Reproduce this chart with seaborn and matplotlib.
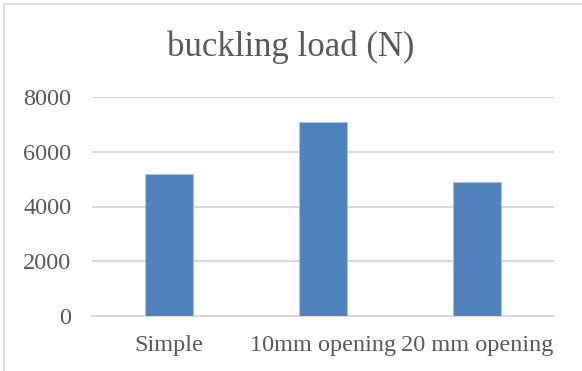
import matplotlib
matplotlib.use("Agg")
import matplotlib.pyplot as plt
import matplotlib.patches as mpatches
import seaborn as sns
import pandas as pd

categories = ["Simple", "10mm opening", "20 mm opening"]
buckling_load = [5200, 7100, 4900]
y_ticks = [0, 2000, 4000, 6000, 8000]

sns.set_theme(style="white")
plt.rcParams["font.family"] = ["Liberation Serif", "DejaVu Serif"]

text_color = "#595959"
grid_color = "#D9D9D9"
bar_color = "#4F81BD"

df = pd.DataFrame({"case": categories, "load": buckling_load})

fig = plt.figure(figsize=(5.82, 3.71), dpi=100)
fig.patch.set_facecolor("white")

# outer chart frame
fig.patches.append(mpatches.Rectangle((3.5 / 582, -0.05), 1.2, 1 - 3.5 / 371 + 0.05,
                                      transform=fig.transFigure, fill=False,
                                      edgecolor="#D9D9D9", linewidth=1.2))

ax = fig.add_axes([92 / 582, 1 - 316 / 371, (554 - 92) / 582, (316 - 97) / 371])
sns.barplot(data=df, x="case", y="load", color=bar_color, width=0.31,
            saturation=1, edgecolor="#A9C1E0", linewidth=0.8, ax=ax, zorder=3)

ax.set_ylim(0, 8000)
ax.set_yticks(y_ticks)
ax.set_xlim(-0.5, len(categories) - 0.5)
ax.grid(axis="y", color=grid_color, linewidth=1.5, zorder=0)
ax.set_axisbelow(True)
for side in ["top", "right", "left"]:
    ax.spines[side].set_visible(False)
ax.spines["bottom"].set_color(grid_color)
ax.spines["bottom"].set_linewidth(1.5)
ax.set_xlabel("")
ax.set_ylabel("")
ax.tick_params(axis="y", length=0, pad=15, labelsize=17.5, labelcolor=text_color)
ax.tick_params(axis="x", length=0, pad=14, labelsize=17.5, labelcolor=text_color)

fig.text(0.5, 1 - 47 / 371, "buckling load (N)", ha="center", va="center",
         fontsize=25, color=text_color)

fig.savefig("out.png", dpi=100)
